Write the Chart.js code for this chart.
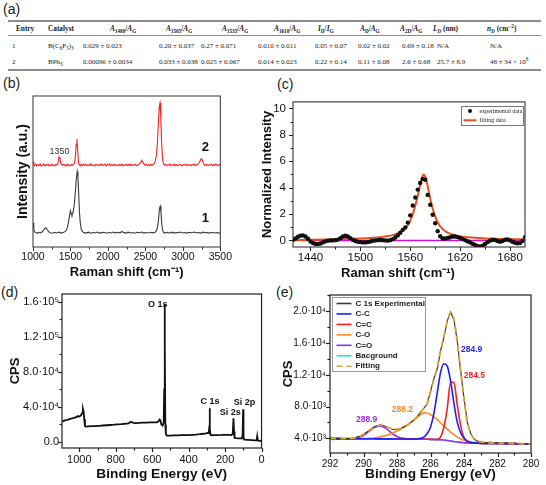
<!DOCTYPE html>
<html><head><meta charset="utf-8">
<script src="https://cdn.jsdelivr.net/npm/chart.js@4.4.1/dist/chart.umd.min.js"></script>
<style>
html,body{margin:0;padding:0;background:#fff;}
body{width:546px;height:485px;position:relative;overflow:hidden;font-family:'Liberation Sans',Arial,sans-serif;color:#111;}
.plab{position:absolute;font-size:14px;line-height:14px;color:#222;}
canvas{position:absolute;}
.tb{position:absolute;font-family:'Liberation Serif','Times New Roman',serif;font-size:7px;line-height:8px;color:#1a1a1a;white-space:nowrap;transform:translateY(-50%);}
.tb sub,.tb sup{font-size:5.2px;line-height:0;}
.th{font-weight:bold;font-size:7.3px;}
.hr{position:absolute;left:8px;width:533px;background:#8c8c8c;}
.xt{position:absolute;font-weight:bold;font-size:13px;transform:translate(-50%,-50%);white-space:nowrap;color:#111;}
</style></head><body>
<div class="plab" style="left:3px;top:2px">(a)</div>
<div class="plab" style="left:3px;top:76px">(b)</div>
<div class="plab" style="left:277px;top:77px">(c)</div>
<div class="plab" style="left:1px;top:285px">(d)</div>
<div class="plab" style="left:276px;top:285px">(e)</div>
<div class="hr" style="top:20px;height:2px"></div>
<div class="hr" style="top:35px;height:1px"></div>
<div class="hr" style="top:69px;height:2px"></div>
<div id="tbl"></div>
<canvas id="cb" width="236" height="194" style="left:0;top:88px"></canvas>
<canvas id="cc" width="290" height="194" style="left:256px;top:88px"></canvas>
<canvas id="cd" width="270" height="201" style="left:0;top:284px"></canvas>
<canvas id="ce" width="270" height="201" style="left:276px;top:284px"></canvas>
<div class="xt" style="left:398px;top:272px">Raman shift (cm⁻¹)</div>
<script>
// ---------- (a) table data ----------
const tableHeaders = ['Entry','Catalyst','<i>A</i><sub>1480</sub>/<i>A</i><sub>G</sub>','<i>A</i><sub>1505</sub>/<i>A</i><sub>G</sub>','<i>A</i><sub>1535</sub>/<i>A</i><sub>G</sub>','<i>A</i><sub>1610</sub>/<i>A</i><sub>G</sub>','<i>I</i><sub>D</sub>/<i>I</i><sub>G</sub>','<i>A</i><sub>D</sub>/<i>A</i><sub>G</sub>','<i>A</i><sub>2D</sub>/<i>A</i><sub>G</sub>','<i>L<sub>D</sub></i> (nm)','<i>n<sub>D</sub></i> (cm<sup>−2</sup>)'];
const tableRow1 = ['1','B(C<sub>6</sub>F<sub>5</sub>)<sub>3</sub>','0.029 ± 0.023','0.20 ± 0.037','0.27 ± 0.071','0.010 ± 0.011','0.05 ± 0.07','0.02 ± 0.02','0.69 ± 0.18','N/A','N/A'];
const tableRow2 = ['2','BPh<sub>3</sub>','0.00096 ± 0.0034','0.033 ± 0.038','0.025 ± 0.067','0.014 ± 0.023','0.22 ± 0.14','0.11 ± 0.08','2.6 ± 0.68','25.7 ± 8.9','48 ± 34 × 10<sup>8</sup>'];

// ---------- (b) Raman spectra ----------
const bShift1 = [1000,1010,1020,1040,1060,1080,1100,1120,1140,1160,
1175,1190,1210,1230,1260,1290,1320,1350,1380,1410,
1440,1460,1475,1490,1500,1510,1520,1535,1550,1565,
1578,1590,1600,1610,1620,1632,1645,1660,1680,1710,
1740,1770,1800,1830,1860,1890,1920,1950,1980,2010,
2040,2070,2100,2130,2160,2190,2210,2240,2270,2300,
2330,2360,2390,2420,2450,2480,2510,2540,2570,2600,
2630,2650,2665,2677,2688,2698,2708,2718,2730,2744,
2760,2790,2820,2850,2880,2910,2940,2970,3000,3030,
3060,3090,3120,3150,3180,3210,3240,3270,3300,3330,
3360,3390,3420,3450,3480,3500];
const bIntensity1 = [16,12,10,9.6,9.1,9.7,9.3,9.9,11,12.4,
12.8,11.4,10,9.4,9.1,9.7,9.3,9.8,9.2,9.7,
10.6,13,17,21.5,24,22,21,23,27.5,36,
45,50,46,35,23,15.5,11.5,10.2,9.5,9.2,
9.8,9.1,9.6,9.3,9.9,9.2,9.5,9.8,9.1,9.6,
9.3,9.9,9.2,9.7,9.4,10.3,9.5,9.2,9.8,9.3,
9.6,9.1,9.7,9.4,9.9,9.2,9.6,9.3,9.8,9.4,
9.8,11,14,19,25.5,27,23,15.5,11,9.6,
9.2,9.7,9.3,9.8,9.2,9.6,9.4,9.9,9.3,9.6,
9.2,9.7,9.4,9.9,9.3,9.6,9.2,9.8,9.4,9.5,
9.2,9.7,9.3,9.6,9.2,9.5];
const bShift2 = [1000,1010,1020,1035,1050,1065,1080,1095,1110,1125,
1140,1155,1170,1185,1200,1215,1230,1245,1260,1275,
1290,1305,1320,1335,1348,1360,1372,1390,1405,1420,
1435,1450,1465,1480,1495,1510,1525,1540,1555,1566,
1576,1586,1596,1606,1618,1630,1645,1660,1675,1690,
1705,1720,1735,1750,1765,1780,1795,1810,1825,1840,
1855,1870,1885,1900,1915,1930,1945,1960,1975,1990,
2005,2020,2035,2050,2065,2080,2095,2110,2125,2140,
2155,2170,2185,2200,2215,2230,2245,2260,2275,2290,
2305,2320,2335,2350,2365,2380,2395,2410,2425,2440,
2452,2465,2480,2495,2510,2525,2540,2555,2570,2585,
2600,2615,2630,2648,2662,2674,2685,2695,2705,2716,
2728,2740,2752,2765,2780,2795,2810,2825,2840,2855,
2870,2885,2900,2915,2930,2945,2960,2975,2990,3005,
3020,3035,3050,3065,3080,3095,3110,3125,3140,3155,
3170,3185,3200,3215,3230,3245,3260,3275,3290,3305,
3320,3335,3350,3365,3380,3395,3410,3425,3440,3455,
3470,3485,3500];
const bIntensity2 = [56.5,55,54,54.8,53.7,54.6,53.9,54.9,53.6,54.4,
54.9,53.8,54.6,54,55,53.7,54.5,53.9,54.8,54.1,
53.8,54.7,54.2,56,59.6,58,55.2,54,54.8,53.9,
54.6,53.8,54.9,54.1,53.7,54.6,54,54.7,55.5,60,
68,71.5,64,56.5,54.3,53.7,54.8,53.9,54.6,54.1,
54.9,53.8,54.5,54,55.1,53.9,54.6,54.2,53.7,54.8,
54.1,54.7,53.8,54.5,55,53.9,54.4,54.9,53.8,54.6,
54.2,55,53.7,54.5,54.1,54.8,53.9,54.6,54.2,53.8,
54.7,54,54.9,53.7,54.5,54.2,54.8,53.9,54.6,54.1,
54.9,53.8,54.5,54.2,54.8,54.1,53.9,54.6,55.2,56.3,
57.5,56.2,55,54.2,54.7,53.9,54.5,54.1,54.8,54,
54.5,55,56.5,61,70,83,93,95.4,86,70,
59,55.5,54.4,54.8,53.9,54.6,54.2,54.9,53.8,54.5,
54.1,54.8,54,54.6,53.8,54.4,54.9,54.1,53.7,54.6,
54.2,54.8,53.9,54.5,54.1,54.7,53.8,54.6,54.2,54.9,
54,54.5,54.8,55.6,57,58.5,57.8,55.5,54.3,54,
54.7,53.9,54.5,54.2,54.8,53.8,54.6,54.1,54.9,54.3,
53.9,54.6,54.4];
const bXTicks = [1000,1500,2000,2500,3000,3500];

// ---------- (c) G band fit ----------
const cExpShift = [1419,1422,1425,1428,1431,1434,1437,1440,1443,1446,
1449,1452,1455,1458,1461,1464,1467,1470,1473,1476,
1479,1482,1485,1488,1491,1494,1497,1500,1503,1506,
1509,1512,1515,1518,1521,1524,1527,1530,1533,1536,
1539,1542,1545,1548,1551,1554,1557,1560,1563,1566,
1569,1572,1575,1578,1581,1584,1587,1590,1593,1596,
1599,1602,1605,1608,1611,1614,1617,1620,1623,1626,
1629,1632,1635,1638,1641,1644,1647,1650,1653,1656,
1659,1662,1665,1668,1671,1674,1677,1680,1683,1686,
1689,1692,1695,1698];
const cExpIntensity = [0.05,0.15,0.28,0.36,0.38,0.3,0.12,-0.08,-0.2,-0.27,
-0.28,-0.24,-0.15,-0.07,-0.02,0,0,0.02,0.06,0.17,
0.3,0.35,0.3,0.17,0.05,-0.05,-0.1,-0.13,-0.15,-0.15,
-0.13,-0.08,-0.03,0,0.02,0.03,0.02,0,-0.02,0.02,
0.1,0.22,0.38,0.58,0.8,0.98,1.35,1.9,2.65,3.25,
3.85,4.35,4.65,4.6,3.45,2.7,1.95,1.3,0.7,0.32,
0.15,0.15,0.18,0.24,0.3,0.3,0.25,0.18,0.1,0.02,
-0.06,-0.15,-0.25,-0.35,-0.43,-0.46,-0.4,-0.27,-0.12,-0.02,
0.05,0.03,-0.05,-0.1,-0.05,0.05,0.07,0,-0.1,-0.18,
-0.22,-0.2,-0.05,0.25];
const cFitShift = [1419,1440,1460,1480,1500,1515,1530,1540,1548,1554,1558,1562,1565,1568,1571,1573,1575,1576.5,1578,1580,1582,1585,1588,1591,1595,1600,1606,1615,1630,1650,1670,1698];
const cFitIntensity = [0.03,0.05,0.07,0.1,0.14,0.2,0.3,0.42,0.62,0.9,1.25,1.8,2.4,3.1,3.95,4.5,4.9,5.0,4.85,4.4,3.8,2.9,2.2,1.65,1.15,0.8,0.55,0.38,0.24,0.15,0.1,0.07];
const cBaseShift = [1419,1698];
const cBaseIntensity = [0,0];
const cXTicks = [1440,1500,1560,1620,1680];
const cYTicks = [0,2,4,6,8,10];

// ---------- (d) XPS survey ----------
const dEnergy = [1095,1085,1075,1065,1055,1045,1035,1025,1015,1008,
1002,996,990,984,980,977,973,969,965,950,
930,910,890,870,850,830,810,790,770,750,
730,720,712,705,690,670,650,630,610,590,
575,565,560,555,550,543,537,534,532,530,
528,525,520,500,480,460,440,420,400,380,
360,340,320,305,295,290,287,285,283,280,
275,260,240,220,200,180,165,158,154,151,
148,140,125,115,108,104,101,99,96,90,
80,70,60,50,40,30,26,24,22,18,
10,5,0];
const dCps = [23200,24000,24800,25200,25900,26600,27000,27800,28500,29600,
28800,29500,30500,33000,37500,35000,26000,18000,17400,17600,
17900,18000,18400,18700,19000,19300,19600,20000,20300,20700,
21200,22500,22800,21600,21500,21700,21900,22100,22200,22300,
22400,23500,25500,24800,20000,18500,22000,60000,156500,110000,
20000,9000,7200,7200,7400,7500,7600,7700,7800,8100,
8400,8800,9300,9800,10200,10000,16000,38500,15000,8000,
7600,7700,7800,7900,8100,8000,7800,9000,27000,12000,
4500,4300,4100,4000,3900,8000,37400,6000,2800,2600,
2400,2200,2000,1900,1800,1700,3000,6000,2500,1500,
1300,1200,1000];
const dXTicks = [1000,800,600,400,200,0];
const dYTickValues = [0,40000,80000,120000,160000];
const dYTickLabels = ['0.0','4.0·10⁴','8.0·10⁴','1.2·10⁵','1.6·10⁵'];
const dPeakNames = ['O 1s','C 1s','Si 2s','Si 2p'];
const dPeakNameEnergy = [569,283,172,94];
const dPeakNameCps = [156500,46300,33100,44600];

// ---------- (e) C 1s high resolution ----------
const eEnergy = [292,291.8,291.6,291.4,291.2,291,290.8,290.6,290.4,290.2,
290,289.8,289.6,289.4,289.2,289,288.8,288.6,288.4,288.2,
288,287.8,287.6,287.4,287.2,287,286.8,286.6,286.4,286.2,
286,285.8,285.6,285.4,285.2,285,284.8,284.6,284.4,284.2,
284,283.8,283.6,283.4,283.2,283,282.8,282.6,282.4,282.2,
282,281.8,281.6,281.4,281.2,281,280.8,280.6,280.4,280.2,
280];
const eExperimental = [3880,3820,3930,3860,3900,3990,3940,4030,4160,4290,
4520,4780,5120,5390,5560,5680,5580,5420,5230,5080,
5170,5190,5420,5630,5930,6320,6720,7280,7760,8320,
9900,11500,12700,15000,16700,18800,19900,18900,16200,12500,
9000,6000,4600,3900,3640,3560,3480,3470,3520,3410,
3460,3370,3440,3390,3350,3420,3320,3380,3290,3340,
3270];
const eCC = [3960,3960,3958,3956,3954,3952,3950,3948,3946,3944,
3942,3940,3938,3936,3934,3932,3930,3928,3925,3922,
3920,3917,3914,3910,3906,3902,3920,3990,4150,4600,
5400,7100,9700,12300,13400,13100,11200,8400,6000,4700,
4000,3650,3480,3420,3390,3370,3362,3357,3352,3348,
3344,3340,3336,3332,3328,3324,3320,3316,3312,3308,
3304];
const eCdoubleC = [3960,3960,3958,3956,3954,3952,3950,3948,3946,3944,
3942,3940,3938,3936,3934,3932,3930,3928,3925,3922,
3920,3917,3914,3910,3906,3902,3898,3894,3888,3880,
3870,3858,3870,4150,5400,7800,11100,11000,8200,5600,
4100,3600,3440,3390,3375,3368,3362,3357,3352,3348,
3344,3340,3336,3332,3328,3324,3320,3316,3312,3308,
3304];
const eCO = [3960,3960,3958,3956,3954,3952,3950,3948,3946,3944,
3950,3980,4000,4040,4100,4180,4280,4400,4550,4720,
4920,5150,5400,5680,5960,6250,6600,6950,7200,7180,
6980,6700,6350,5950,5550,5150,4780,4450,4150,3920,
3780,3650,3560,3500,3460,3430,3410,3395,3382,3370,
3360,3352,3345,3340,3335,3330,3325,3320,3315,3310,
3305];
const eCdoubleO = [3962,3962,3961,3960,3958,3958,3962,3990,4040,4150,
4350,4650,5000,5300,5500,5530,5400,5150,4800,4480,
4230,4070,3990,3950,3930,3910,3898,3894,3888,3880,
3870,3858,3840,3815,3780,3730,3670,3600,3540,3490,
3450,3420,3400,3385,3375,3368,3362,3357,3352,3348,
3344,3340,3336,3332,3328,3324,3320,3316,3312,3308,
3304];
const eBackground = [3960,3960,3958,3956,3954,3952,3950,3948,3946,3944,
3942,3940,3938,3936,3934,3932,3930,3928,3925,3922,
3920,3917,3914,3910,3906,3902,3898,3894,3888,3880,
3870,3858,3840,3815,3780,3730,3670,3600,3540,3490,
3450,3420,3400,3385,3375,3368,3362,3357,3352,3348,
3344,3340,3336,3332,3328,3324,3320,3316,3312,3308,
3304];
const eFitting = [3950,3950,3950,3950,3952,3960,3975,4010,4110,4280,
4520,4800,5110,5380,5560,5640,5580,5430,5270,5170,
5170,5240,5400,5620,5920,6300,6750,7250,7780,8400,
9800,11400,12900,15000,16800,18700,19800,19000,16200,12500,
9000,6100,4600,3950,3680,3560,3490,3450,3420,3400,
3390,3380,3370,3360,3350,3340,3330,3320,3310,3300,
3290];
const eXTicks = [292,290,288,286,284,282,280];
const eYTickValues = [4000,8000,12000,16000,20000];
const eYTickLabels = ['4.0·10³','8.0·10³','1.2·10⁴','1.6·10⁴','2.0·10⁴'];
const ePeakNames = ['284.9','284.5','286.2','288.9'];
const ePeakNameEnergy = [283.54,283.38,287.68,289.81];
const ePeakNameCps = [15200,11850,7560,6300];

// ---------- build table ----------
const colXHead = [16,48,110,166,222,274,318,360,400,433,487];
const colXBody = [12,48,83,159,201,258,315,358,402,437,490];
const tbl = document.getElementById('tbl');
function addCell(html, x, y, cls){ const d=document.createElement('div'); d.className='tb '+(cls||''); d.style.left=x+'px'; d.style.top=y+'px'; d.innerHTML=html; tbl.appendChild(d); }
tableHeaders.forEach((h,i)=>addCell(h,colXHead[i],29,'th'));
tableRow1.forEach((h,i)=>addCell(h,colXBody[i],46));
tableRow2.forEach((h,i)=>addCell(h,colXBody[i],62));

// ---------- chart helpers ----------
Chart.defaults.font.family = "'Liberation Sans', Arial, sans-serif";
Chart.defaults.color = '#111';
const pts = (xs, ys) => xs.map((x,i)=>({x, y: ys[i]}));

const extrasPlugin = {
  id: 'extras',
  afterDatasetsDraw(chart, args, o) {
    const ctx = chart.ctx, a = chart.chartArea, sx = chart.scales.x, sy = chart.scales.y;
    ctx.save();
    ctx.strokeStyle = o.frameColor || '#222';
    ctx.lineWidth = o.frameWidth || 1;
    ctx.strokeRect(a.left, a.top, a.right - a.left, a.bottom - a.top);
    const drawTicks = (s, t, horiz) => {
      if (!t) return;
      const k0 = Math.ceil(s.min / t.minor - 1e-9), k1 = Math.floor(s.max / t.minor + 1e-9);
      for (let k = k0; k <= k1; k++) {
        const v = k * t.minor;
        const major = Math.abs(v / t.major - Math.round(v / t.major)) < 1e-6;
        const len = major ? 4 : 2.5;
        const p = Math.round(s.getPixelForValue(v)) + 0.5;
        ctx.beginPath();
        if (horiz) { ctx.moveTo(p, a.bottom); ctx.lineTo(p, a.bottom + len); }
        else { ctx.moveTo(a.left, p); ctx.lineTo(a.left - len, p); }
        ctx.stroke();
      }
    };
    drawTicks(sx, o.xTicks, true);
    drawTicks(sy, o.yTicks, false);
    (o.notes || []).forEach(n => {
      ctx.font = n.font; ctx.fillStyle = n.color; ctx.textAlign = 'center'; ctx.textBaseline = 'middle';
      ctx.fillText(n.text, sx.getPixelForValue(n.x), sy.getPixelForValue(n.y));
    });
    const L = o.legend;
    if (L) {
      const bx = Math.round(a.left + L.x) + 0.5, by = Math.round(a.top + L.y) + 0.5;
      ctx.fillStyle = '#fff'; ctx.fillRect(bx, by, L.w, L.h);
      ctx.strokeStyle = L.border; ctx.lineWidth = 1; ctx.setLineDash([]); ctx.strokeRect(bx, by, L.w, L.h);
      L.order.forEach((di, i) => {
        const ds = chart.data.datasets[di];
        const cy = by + L.rowY + i * L.rowH;
        if (ds.showLine === false) {
          ctx.fillStyle = ds.pointBackgroundColor;
          ctx.beginPath(); ctx.arc(bx + (L.sx0 + L.sx1) / 2, cy, 2, 0, Math.PI * 2); ctx.fill();
        } else {
          ctx.strokeStyle = ds.borderColor; ctx.lineWidth = L.lw || ds.borderWidth;
          ctx.setLineDash(ds.borderDash || []);
          ctx.beginPath(); ctx.moveTo(bx + L.sx0, cy); ctx.lineTo(bx + L.sx1, cy); ctx.stroke();
          ctx.setLineDash([]);
        }
        ctx.fillStyle = L.color; ctx.font = L.font; ctx.textAlign = 'left'; ctx.textBaseline = 'middle';
        ctx.fillText(ds.label, bx + L.textX, cy);
      });
    }
    ctx.restore();
  }
};

function xScale(o) {
  return {
    type: 'linear', min: o.min, max: o.max, reverse: !!o.reverse,
    afterFit: s => { s.height = o.h; },
    afterBuildTicks: s => { s.ticks = o.ticks.map(v => ({value: v})); },
    grid: {display: false, drawTicks: false}, border: {display: false},
    ticks: {autoSkip: false, maxRotation: 0, padding: o.tp, font: {size: o.fs}, color: '#111',
      callback: (v, i) => o.labels ? o.labels[i] : String(v)},
    title: o.title ? {display: true, text: o.title, color: '#111', font: {size: o.tfs, weight: 'bold'}, padding: {top: 0, bottom: o.tpad}} : {display: false}
  };
}
function yScale(o) {
  return {
    type: 'linear', min: o.min, max: o.max,
    afterFit: s => { s.width = o.w; },
    afterBuildTicks: s => { s.ticks = (o.ticks || []).map(v => ({value: v})); },
    grid: {display: false, drawTicks: false}, border: {display: false},
    ticks: {display: !!o.ticks, autoSkip: false, padding: o.tp || 0, font: {size: o.fs || 10}, color: '#111',
      callback: (v, i) => o.labels ? o.labels[i] : String(v)},
    title: {display: true, text: o.title, color: '#111', font: {size: o.tfs, weight: 'bold'}, padding: {top: o.tpad, bottom: 0}}
  };
}
function opts(pad, x, y, extras) {
  return {
    responsive: false, animation: false, devicePixelRatio: 1,
    layout: {padding: pad},
    plugins: {legend: {display: false}, tooltip: {enabled: false}, extras},
    elements: {point: {radius: 0}},
    scales: {x, y}
  };
}
const line = (label, xs, ys, color, w, extra) => Object.assign({label, data: pts(xs, ys), borderColor: color, backgroundColor: color, borderWidth: w, pointRadius: 0, fill: false, tension: 0}, extra || {});

// ---------- (b) ----------
new Chart(document.getElementById('cb'), {
  type: 'line',
  data: {datasets: [
    line('2', bShift2, bIntensity2, '#ff1f1f', 1.1),
    line('1', bShift1, bIntensity1, '#3a3a3a', 1.1)
  ]},
  options: opts({top: 8, right: 15, left: 0, bottom: 0},
    xScale({min: 1000, max: 3500, h: 35, ticks: bXTicks, tp: 4, fs: 10.5, title: 'Raman shift (cm⁻¹)', tfs: 13, tpad: 2}),
    yScale({min: 0, max: 100, w: 33, title: 'Intensity (a.u.)', tfs: 14, tpad: 14.6}),
    {frameColor: '#333', frameWidth: 1, xTicks: {major: 500, minor: 250},
     notes: [
       {text: '1350', x: 1355, y: 63, font: '9px "Liberation Sans", Arial', color: '#333'},
       {text: '2', x: 3300, y: 66, font: 'bold 13px "Liberation Sans", Arial', color: '#111'},
       {text: '1', x: 3300, y: 19, font: 'bold 13px "Liberation Sans", Arial', color: '#111'}
     ]}),
  plugins: [extrasPlugin]
});

// ---------- (c) ----------
new Chart(document.getElementById('cc'), {
  type: 'line',
  data: {datasets: [
    {label: 'experimental data', data: pts(cExpShift, cExpIntensity), showLine: false, pointRadius: 2.2, pointBorderWidth: 0, pointBackgroundColor: '#111', borderColor: '#111', order: 0},
    line('fitting data', cFitShift, cFitIntensity, '#e8501e', 2, {cubicInterpolationMode: 'monotone', order: 1}),
    line('baseline', cBaseShift, cBaseIntensity, '#d010d0', 1.5, {order: 2})
  ]},
  options: opts({top: 6, right: 21, left: 0, bottom: 0},
    xScale({min: 1419, max: 1698, h: 35, ticks: cXTicks, tp: 4, fs: 11.5}),
    yScale({min: -0.5, max: 10.5, w: 37, ticks: cYTicks, tp: 7, fs: 11.5, title: 'Normalized Intensity', tfs: 13, tpad: 3.2}),
    {frameColor: '#222', frameWidth: 1, xTicks: {major: 60, minor: 30}, yTicks: {major: 2, minor: 1},
     legend: {x: 167.7, y: 3.7, w: 62, h: 19, rowY: 4.5, rowH: 9.3, sx0: 2, sx1: 15, textX: 18, lw: 2,
       border: '#777', color: '#222', font: '6px "Liberation Serif", serif', order: [0, 1]}}),
  plugins: [extrasPlugin]
});

// ---------- (d) ----------
new Chart(document.getElementById('cd'), {
  type: 'line',
  data: {datasets: [line('survey', dEnergy, dCps, '#111', 1.8)]},
  options: opts({top: 10, right: 8, left: 0, bottom: 0},
    xScale({min: 0, max: 1095, reverse: true, h: 37, ticks: dXTicks, tp: 5.4, fs: 11, title: 'Binding Energy (eV)', tfs: 13.7, tpad: 2.8}),
    yScale({min: -7000, max: 169000, w: 62, ticks: dYTickValues, labels: dYTickLabels, tp: 3, fs: 11, title: 'CPS', tfs: 13, tpad: 7.2}),
    {frameColor: '#222', frameWidth: 1.2, xTicks: {major: 200, minor: 100}, yTicks: {major: 40000, minor: 20000},
     notes: dPeakNames.map((t, i) => ({text: t, x: dPeakNameEnergy[i], y: dPeakNameCps[i], font: 'bold 9px "Liberation Sans", Arial', color: '#111'}))}),
  plugins: [extrasPlugin]
});

// ---------- (e) ----------
const eColors = ['#3a3a3a', '#1f1fff', '#ff1f1f', '#ff8a1c', '#9b30e8', '#14e4ec', '#d9a531'];
new Chart(document.getElementById('ce'), {
  type: 'line',
  data: {datasets: [
    line('C 1s Experimental', eEnergy, eExperimental, eColors[0], 1.2, {order: 1}),
    line('C-C', eEnergy, eCC, eColors[1], 1.6, {cubicInterpolationMode: 'monotone', order: 2}),
    line('C=C', eEnergy, eCdoubleC, eColors[2], 1.6, {cubicInterpolationMode: 'monotone', order: 3}),
    line('C-O', eEnergy, eCO, eColors[3], 1.6, {cubicInterpolationMode: 'monotone', order: 4}),
    line('C=O', eEnergy, eCdoubleO, eColors[4], 1.6, {cubicInterpolationMode: 'monotone', order: 5}),
    line('Bacground', eEnergy, eBackground, eColors[5], 1.6, {order: 6}),
    line('Fitting', eEnergy, eFitting, eColors[6], 1.8, {borderDash: [6, 4], cubicInterpolationMode: 'monotone', order: 0})
  ]},
  options: opts({top: 11, right: 15, left: 0, bottom: 0},
    xScale({min: 280, max: 292, reverse: true, h: 32, ticks: eXTicks, tp: 5, fs: 10, title: 'Binding Energy (eV)', tfs: 13.7, tpad: 2.8}),
    yScale({min: 2150, max: 22050, w: 54, ticks: eYTickValues, labels: eYTickLabels, tp: 4, fs: 10, title: 'CPS', tfs: 13, tpad: 4.2}),
    {frameColor: '#222', frameWidth: 1.2, xTicks: {major: 2, minor: 1}, yTicks: {major: 4000, minor: 2000},
     notes: ePeakNames.map((t, i) => ({text: t, x: ePeakNameEnergy[i], y: ePeakNameCps[i], font: 'bold 8.5px "Liberation Sans", Arial', color: eColors[[1, 2, 3, 4][i]]})),
     legend: {x: 1.5, y: 2, w: 93, h: 74, rowY: 6, rowH: 10.45, sx0: 4, sx1: 19, textX: 23, lw: 1.6,
       border: '#999', color: '#222', font: 'bold 8px "Liberation Sans", Arial', order: [0, 1, 2, 3, 4, 5, 6]}}),
  plugins: [extrasPlugin]
});
</script>
</body></html>
